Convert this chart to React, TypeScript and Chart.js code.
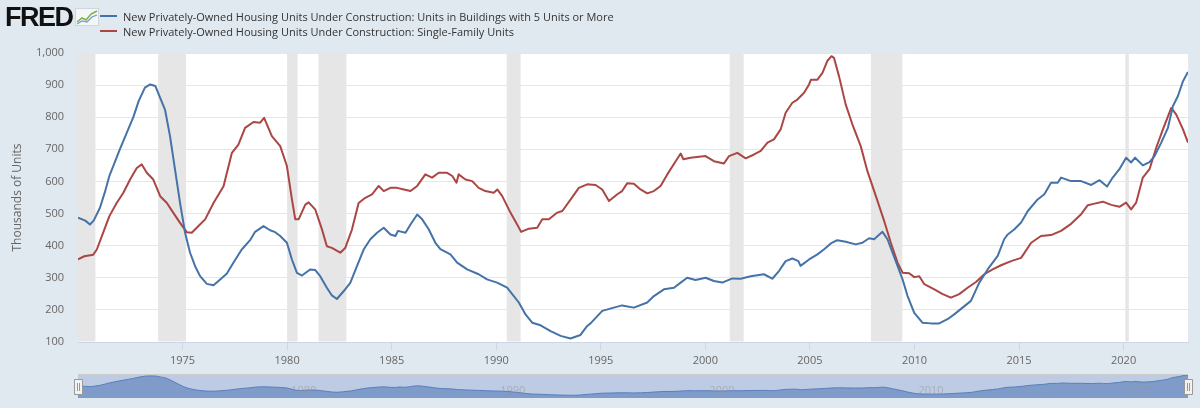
import React, { useEffect, useRef } from "react";
import { Chart, registerables } from "chart.js";

Chart.register(...registerables);

// Units in Buildings with 5 Units or More (thousands), decimal year
const blueYears = [
  1970.0, 1970.35, 1970.57, 1970.75, 1971.05, 1971.3, 1971.5, 1971.7, 1972.0, 1972.33, 1972.65, 1972.9,
  1973.2, 1973.45, 1973.7, 1973.93, 1974.16, 1974.4, 1974.64, 1974.88, 1975.12, 1975.36, 1975.6, 1975.84,
  1976.16, 1976.48, 1976.8, 1977.12, 1977.43, 1977.83, 1978.25, 1978.47, 1978.87, 1979.19, 1979.43, 1979.67,
  1979.99, 1980.23, 1980.47, 1980.71, 1981.1, 1981.35, 1981.58, 1981.9, 1982.14, 1982.38, 1982.7, 1983.02,
  1983.34, 1983.66, 1983.98, 1984.3, 1984.62, 1984.94, 1985.18, 1985.3, 1985.66, 1985.9, 1986.22, 1986.46,
  1986.77, 1987.09, 1987.33, 1987.81, 1988.13, 1988.61, 1989.16, 1989.56, 1990.04, 1990.52, 1990.84, 1991.08,
  1991.4, 1991.72, 1992.12, 1992.6, 1993.08, 1993.55, 1994.03, 1994.35, 1994.51, 1995.07, 1995.62, 1996.02,
  1996.58, 1997.22, 1997.54, 1998.02, 1998.5, 1998.82, 1999.13, 1999.53, 2000.01, 2000.41, 2000.81, 2001.29,
  2001.69, 2002.17, 2002.8, 2003.2, 2003.52, 2003.84, 2004.16, 2004.45, 2004.55, 2004.96, 2005.36, 2005.68,
  2006.0, 2006.31, 2006.71, 2007.19, 2007.51, 2007.83, 2008.07, 2008.47, 2008.71, 2008.95, 2009.19, 2009.43,
  2009.67, 2009.99, 2010.38, 2010.78, 2011.18, 2011.58, 2011.9, 2012.3, 2012.7, 2013.1, 2013.5, 2013.98,
  2014.29, 2014.46, 2014.78, 2015.1, 2015.42, 2015.89, 2016.21, 2016.53, 2016.85, 2017.01, 2017.49, 2017.97,
  2018.45, 2018.85, 2019.21, 2019.48, 2019.8, 2020.12, 2020.36, 2020.55, 2020.92, 2021.24, 2021.48, 2021.8,
  2022.12, 2022.36, 2022.6, 2022.84, 2023.08,
];
const blueValues = [
  487, 478, 466, 478, 518, 570, 617, 650, 700, 751, 801, 850,
  892, 902, 897, 860, 824, 741, 637, 533, 440, 378, 336, 305,
  281, 277, 295, 313, 347, 388, 419, 443, 461, 448, 442, 430,
  409, 357, 315, 307, 326, 324, 305, 269, 245, 234, 258, 284,
  336, 388, 420, 440, 456, 435, 430, 446, 440, 466, 497, 482,
  451, 409, 389, 373, 347, 326, 311, 295, 285, 269, 243, 223,
  186, 160, 152, 134, 119, 111, 122, 150, 158, 197, 207, 214,
  207, 223, 243, 264, 269, 285, 300, 293, 300, 290, 285, 298,
  297, 305, 311, 297, 321, 352, 360, 352, 337, 357, 373, 389,
  407, 417, 412, 404, 409, 423, 420, 443, 420, 378, 337, 295,
  243, 191, 160, 158, 158, 171, 186, 207, 228, 285, 326, 368,
  420, 435, 451, 472, 508, 544, 560, 596, 596, 612, 601, 601,
  589, 604, 584, 612, 638, 674, 659, 674, 650, 660, 679, 721,
  767, 835, 866, 912, 941,
];

// Single-Family Units (thousands), decimal year
const redYears = [
  1970.0, 1970.3, 1970.73, 1970.9, 1971.2, 1971.5, 1971.85, 1972.17, 1972.49, 1972.81, 1973.05, 1973.29,
  1973.6, 1973.93, 1974.25, 1974.56, 1974.88, 1975.2, 1975.44, 1975.76, 1976.08, 1976.48, 1976.96, 1977.36,
  1977.67, 1977.99, 1978.39, 1978.71, 1978.9, 1979.27, 1979.67, 1979.99, 1980.23, 1980.39, 1980.55, 1980.87,
  1981.03, 1981.35, 1981.67, 1981.9, 1982.14, 1982.54, 1982.78, 1983.1, 1983.42, 1983.74, 1984.06, 1984.38,
  1984.62, 1984.94, 1985.26, 1985.58, 1985.9, 1986.22, 1986.61, 1986.93, 1987.25, 1987.65, 1987.9, 1988.1,
  1988.2, 1988.53, 1988.85, 1989.16, 1989.48, 1989.88, 1990.05, 1990.28, 1990.68, 1991.0, 1991.19, 1991.56,
  1991.96, 1992.2, 1992.52, 1992.92, 1993.16, 1993.56, 1993.95, 1994.35, 1994.75, 1995.07, 1995.39, 1995.79,
  1996.02, 1996.26, 1996.58, 1996.9, 1997.22, 1997.54, 1997.86, 1998.18, 1998.58, 1998.82, 1998.95, 1999.29,
  2000.01, 2000.41, 2000.89, 2001.13, 2001.53, 2001.93, 2002.33, 2002.65, 2002.97, 2003.28, 2003.6, 2003.84,
  2004.16, 2004.4, 2004.72, 2004.96, 2005.05, 2005.36, 2005.6, 2005.83, 2006.03, 2006.15, 2006.39, 2006.71,
  2007.03, 2007.43, 2007.75, 2008.15, 2008.55, 2008.87, 2009.19, 2009.43, 2009.75, 2009.99, 2010.23, 2010.47,
  2010.95, 2011.35, 2011.74, 2012.14, 2012.54, 2012.94, 2013.34, 2013.74, 2014.14, 2014.62, 2015.1, 2015.58,
  2016.05, 2016.53, 2017.01, 2017.49, 2017.97, 2018.29, 2018.61, 2019.01, 2019.41, 2019.8, 2020.12, 2020.36,
  2020.6, 2020.92, 2021.24, 2021.56, 2021.88, 2022.28, 2022.52, 2022.84, 2023.08,
];
const redValues = [
  357, 367, 372, 388, 440, 492, 533, 565, 606, 642, 653, 627,
  606, 554, 533, 502, 471, 442, 440, 461, 482, 533, 585, 689,
  715, 767, 785, 783, 798, 741, 710, 648, 544, 482, 482, 528,
  535, 512, 450, 398, 393, 378, 393, 450, 533, 549, 560, 586,
  570, 580, 580, 575, 570, 586, 622, 612, 627, 627, 617, 596,
  622, 606, 601, 580, 570, 565, 575, 555, 503, 466, 443, 453,
  456, 482, 482, 503, 508, 544, 580, 591, 589, 575, 539, 560,
  570, 594, 593, 575, 563, 570, 586, 622, 663, 687, 669, 674,
  679, 663, 656, 679, 689, 672, 684, 695, 721, 731, 762, 814,
  845, 855, 876, 902, 917, 917, 938, 975, 990, 985, 928, 840,
  778, 710, 632, 555, 477, 409, 347, 316, 314, 302, 305, 280,
  264, 249, 238, 249, 269, 287, 311, 326, 339, 352, 362, 409,
  430, 433, 446, 468, 498, 526, 531, 537, 527, 521, 534, 513,
  534, 612, 638, 705, 762, 829, 808, 762, 721,
];

const recessionStarts = [1969.917, 1973.833, 1980.0, 1981.5, 1990.5, 2001.167, 2007.917, 2020.083];
const recessionEnds = [1970.833, 1975.167, 1980.5, 1982.833, 1991.167, 2001.833, 2009.417, 2020.25];

const xTickYears = [1975, 1980, 1985, 1990, 1995, 2000, 2005, 2010, 2015, 2020];
const navLabelYears = [1980, 1990, 2000, 2010, 2020];

const seriesNames = [
  "New Privately-Owned Housing Units Under Construction: Units in Buildings with 5 Units or More",
  "New Privately-Owned Housing Units Under Construction: Single-Family Units",
];
const seriesColors = ["#4572a7", "#aa4643"];
const yAxisTitle = "Thousands of Units";

const X_MIN = 1970.0;
const X_MAX = 2023.08;
const FONT = "'Open Sans', 'DejaVu Sans', sans-serif";

const toPoints = (xs: number[], ys: number[]) => xs.map((x, i) => ({ x, y: ys[i] }));

export default function App() {
  const mainRef = useRef<HTMLCanvasElement | null>(null);
  const navRef = useRef<HTMLCanvasElement | null>(null);

  useEffect(() => {
    document.body.style.margin = "0";
    if (!mainRef.current || !navRef.current) return;

    const bgPlugin = {
      id: "bgPlugin",
      beforeDraw(chart: any) {
        const { ctx, chartArea } = chart;
        ctx.save();
        ctx.fillStyle = "#ffffff";
        ctx.fillRect(chartArea.left, chartArea.top, chartArea.right - chartArea.left, chartArea.bottom - chartArea.top);
        ctx.restore();
      },
      beforeDatasetsDraw(chart: any) {
        const { ctx, chartArea, scales } = chart;
        ctx.save();
        ctx.fillStyle = "#e6e6e6";
        recessionStarts.forEach((s, i) => {
          const x0 = Math.max(scales.x.getPixelForValue(s), chartArea.left);
          const x1 = Math.min(scales.x.getPixelForValue(recessionEnds[i]), chartArea.right);
          if (x1 > x0) ctx.fillRect(x0, chartArea.top, x1 - x0, chartArea.bottom - chartArea.top - 0.5);
        });
        ctx.restore();
      },
    };

    const main = new Chart(mainRef.current, {
      type: "line",
      data: {
        datasets: [
          {
            label: seriesNames[0],
            data: toPoints(blueYears, blueValues),
            borderColor: seriesColors[0],
            borderWidth: 2,
            pointRadius: 0,
            fill: false,
            borderJoinStyle: "round",
          },
          {
            label: seriesNames[1],
            data: toPoints(redYears, redValues),
            borderColor: seriesColors[1],
            borderWidth: 2,
            pointRadius: 0,
            fill: false,
            borderJoinStyle: "round",
          },
        ],
      },
      options: {
        animation: false,
        responsive: false,
        devicePixelRatio: 1,
        layout: { padding: { top: 53, right: 12, left: 0, bottom: 0 } },
        plugins: { legend: { display: false }, tooltip: { enabled: false } },
        scales: {
          x: {
            type: "linear",
            min: X_MIN,
            max: X_MAX,
            afterBuildTicks: (s: any) => {
              s.ticks = xTickYears.map((v) => ({ value: v }));
            },
            afterFit: (s: any) => {
              s.height = 66;
            },
            ticks: {
              autoSkip: false,
              maxRotation: 0,
              callback: (v: any) => String(v),
              color: "#666666",
              font: { family: FONT, size: 11 },
              padding: 4,
            },
            grid: { drawOnChartArea: false, drawTicks: true, tickLength: 8, color: "#ccd6eb" },
            border: { color: "#ccd6eb" },
          },
          y: {
            min: 100,
            max: 1000,
            afterFit: (s: any) => {
              s.width = 78;
            },
            ticks: {
              stepSize: 100,
              callback: (v: any) => Number(v).toLocaleString("en-US"),
              color: "#666666",
              font: { family: FONT, size: 11 },
              padding: 14,
            },
            grid: { color: "#e6e6e6", drawTicks: false },
            border: { display: false },
            title: {
              display: true,
              text: yAxisTitle,
              color: "#666666",
              font: { family: FONT, size: 12 },
              padding: { top: 10, bottom: 0 },
            },
          },
        },
      },
      plugins: [bgPlugin],
    } as any);

    const navPlugin = {
      id: "navPlugin",
      beforeDatasetsDraw(chart: any) {
        const { ctx, chartArea } = chart;
        ctx.save();
        ctx.fillStyle = "#bdcbe4";
        ctx.fillRect(chartArea.left, chartArea.top, chartArea.right - chartArea.left, chartArea.bottom - chartArea.top);
        ctx.restore();
      },
      afterDatasetsDraw(chart: any) {
        const { ctx, chartArea, scales } = chart;
        ctx.save();
        ctx.font = `11px ${FONT}`;
        ctx.fillStyle = "rgba(150,150,150,0.55)";
        ctx.textBaseline = "middle";
        ctx.textAlign = "left";
        navLabelYears.forEach((yr) => {
          const x = scales.x.getPixelForValue(yr);
          ctx.fillText(String(yr), x + 4, chartArea.bottom - 7);
        });
        ctx.strokeStyle = "#cccccc";
        ctx.lineWidth = 1;
        ctx.beginPath();
        ctx.moveTo(chartArea.left, chartArea.top + 0.5);
        ctx.lineTo(chartArea.right, chartArea.top + 0.5);
        ctx.stroke();
        // handles
        [chartArea.left, chartArea.right].forEach((cx) => {
          const w = 8;
          const h = 15;
          const top = (chartArea.top + chartArea.bottom) / 2 - h / 2;
          const x0 = Math.round(cx - w / 2) + 0.5;
          ctx.fillStyle = "#f2f2f2";
          ctx.strokeStyle = "#999999";
          ctx.beginPath();
          ctx.rect(x0, Math.round(top) + 0.5, w, h);
          ctx.fill();
          ctx.stroke();
          ctx.strokeStyle = "#999999";
          ctx.beginPath();
          ctx.moveTo(x0 + 3, Math.round(top) + 4);
          ctx.lineTo(x0 + 3, Math.round(top) + h - 3);
          ctx.moveTo(x0 + 5, Math.round(top) + 4);
          ctx.lineTo(x0 + 5, Math.round(top) + h - 3);
          ctx.stroke();
        });
        ctx.restore();
      },
    };

    const nav = new Chart(navRef.current, {
      type: "line",
      data: {
        datasets: [
          {
            data: toPoints(blueYears, blueValues),
            borderColor: "#5a7fb9",
            borderWidth: 1,
            backgroundColor: "#7e9bca",
            fill: "start",
            pointRadius: 0,
            cubicInterpolationMode: "monotone",
          },
        ],
      },
      options: {
        animation: false,
        responsive: false,
        devicePixelRatio: 1,
        layout: { padding: { top: 0, right: 12, left: 78, bottom: 0 } },
        plugins: { legend: { display: false }, tooltip: { enabled: false } },
        scales: {
          x: { type: "linear", display: false, min: X_MIN, max: X_MAX },
          y: { display: false, min: 0, max: 980 },
        },
      },
      plugins: [navPlugin],
    } as any);

    return () => {
      main.destroy();
      nav.destroy();
    };
  }, []);

  return (
    <div
      style={{
        position: "relative",
        width: 1200,
        height: 408,
        background: "#e1e9f0",
        overflow: "hidden",
        fontFamily: FONT,
      }}
    >
      <canvas ref={mainRef} width={1200} height={408} style={{ position: "absolute", left: 0, top: 0 }} />
      <canvas ref={navRef} width={1200} height={24} style={{ position: "absolute", left: 0, top: 374 }} />
      <div
        style={{
          position: "absolute",
          left: 5,
          top: 2,
          fontFamily: "'Liberation Sans', Arial, sans-serif",
          fontWeight: 700,
          fontSize: 27,
          letterSpacing: -1.5,
          color: "#111",
          lineHeight: "30px",
        }}
      >
        FRED
      </div>
      <svg width={24} height={18} style={{ position: "absolute", left: 75, top: 8 }}>
        <rect x={0.5} y={0.5} width={23} height={17} fill="#f4f6f8" stroke="#d0d6dc" />
        <polyline points="2,14 7,10 11,12 16,6 22,3" fill="none" stroke="#7cb342" strokeWidth={1.5} />
        <polyline points="2,16 7,13 12,14 17,9 22,7" fill="none" stroke="#6f9bd1" strokeWidth={1.2} />
      </svg>
      {seriesNames.map((name, i) => (
        <div
          key={name}
          style={{
            position: "absolute",
            left: 100,
            top: 8 + i * 15,
            height: 16,
            display: "flex",
            alignItems: "center",
            fontSize: 11,
            color: "#333333",
            whiteSpace: "nowrap",
          }}
        >
          <span style={{ display: "inline-block", width: 17, height: 2, background: seriesColors[i], marginRight: 6 }} />
          <span>{name}</span>
        </div>
      ))}
    </div>
  );
}
